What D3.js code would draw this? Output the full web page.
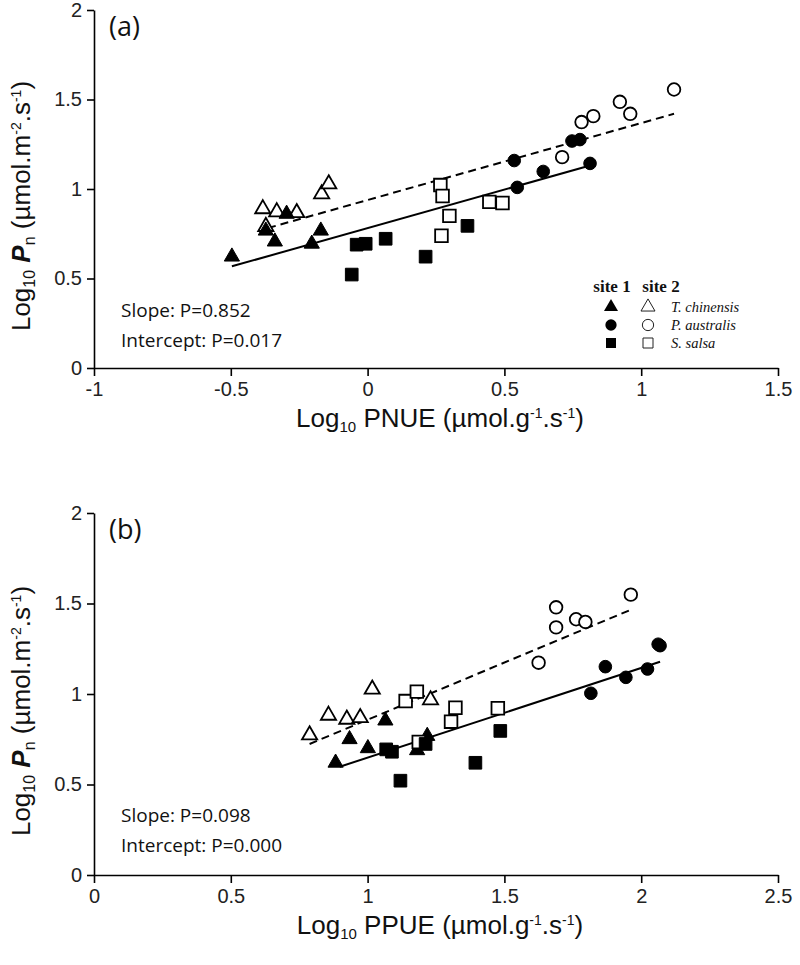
<!DOCTYPE html>
<html><head><meta charset="utf-8">
<script src="https://cdn.jsdelivr.net/npm/d3@7"></script>
<style>body{margin:0;background:#fff}</style></head>
<body>
<svg id="c" width="800" height="965"></svg>
<script>
// ---------- data ----------
const speciesNames = ["T. chinensis", "P. australis", "S. salsa"];
const siteNames = ["site 1", "site 2"];
const symbolTypes = ["triangle", "circle", "square"];

// Panel (a): x = Log10 PNUE, y = Log10 Pn
const aTriS1 = [[-0.496,0.622],[-0.372,0.767],[-0.339,0.706],[-0.296,0.861],[-0.204,0.694],[-0.171,0.767]];
const aTriS2 = [[-0.383,0.889],[-0.372,0.79],[-0.332,0.872],[-0.259,0.867],[-0.168,0.972],[-0.142,1.028]];
const aCirS1 = [[0.536,1.159],[0.642,1.098],[0.547,1.009],[0.747,1.268],[0.776,1.276],[0.813,1.143]];
const aCirS2 = [[0.711,1.178],[0.782,1.374],[0.825,1.407],[0.922,1.487],[0.96,1.42],[1.12,1.556]];
const aSqS1 = [[-0.04,0.689],[-0.007,0.694],[0.066,0.722],[-0.058,0.522],[0.212,0.622],[0.365,0.794]];
const aSqS2 = [[0.266,1.022],[0.274,0.961],[0.299,0.85],[0.27,0.739],[0.445,0.928],[0.493,0.922]];
const aFitS1 = [[-0.496,0.568],[0.81,1.13]];
const aFitS2 = [[-0.364,0.782],[1.12,1.42]];
const aXTicks = [-1, -0.5, 0, 0.5, 1, 1.5];
const aXLabels = ["-1", "-0.5", "0", "0.5", "1", "1.5"];
const aStats = ["Slope: P=0.852", "Intercept: P=0.017"];

// Panel (b): x = Log10 PPUE, y = Log10 Pn
const bTriS1 = [[0.883,0.62],[0.934,0.75],[1.001,0.70],[1.065,0.853],[1.181,0.689],[1.218,0.768]];
const bTriS2 = [[0.788,0.773],[0.857,0.882],[0.924,0.86],[0.973,0.869],[1.017,1.026],[1.23,0.967]];
const bCirS1 = [[1.816,1.004],[1.869,1.151],[1.944,1.092],[2.023,1.138],[2.069,1.267],[2.062,1.275]];
const bCirS2 = [[1.625,1.173],[1.689,1.479],[1.689,1.368],[1.762,1.413],[1.796,1.398],[1.962,1.549]];
const bSqS1 = [[1.068,0.694],[1.089,0.681],[1.212,0.724],[1.12,0.521],[1.394,0.62],[1.485,0.796]];
const bSqS2 = [[1.139,0.961],[1.18,1.013],[1.321,0.924],[1.305,0.847],[1.187,0.735],[1.476,0.921]];
const bFitS1 = [[0.898,0.598],[2.069,1.178]];
const bFitS2 = [[0.788,0.724],[1.966,1.468]];
const bXTicks = [0, 0.5, 1, 1.5, 2, 2.5];
const bXLabels = ["0", "0.5", "1", "1.5", "2", "2.5"];
const bStats = ["Slope: P=0.098", "Intercept: P=0.000"];

const yTicks = [0, 0.5, 1, 1.5, 2];
const yLabels = ["0", "0.5", "1", "1.5", "2"];

// ---------- drawing ----------
const svg = d3.select("#c");
const tickFont = "'Liberation Sans Narrow','Liberation Sans',Arial,sans-serif";
const noteFont = "'Open Sans',sans-serif";

const symMap = {triangle: d3.symbolTriangle, circle: d3.symbolCircle, square: d3.symbolSquare};
const symSize = {triangle: 100, circle: 125, square: 160};

function panel(cfg) {
  const g = svg.append("g");
  const x = d3.scaleLinear().domain(cfg.xDomain).range([94, 778]);
  const y = d3.scaleLinear().domain([0, 2]).range(cfg.yRange);

  const xAxis = d3.axisBottom(x).tickValues(cfg.xTicks)
    .tickFormat((d, i) => cfg.xLabels[i]).tickSizeInner(8).tickSizeOuter(0).tickPadding(6);
  const yAxis = d3.axisLeft(y).tickValues(yTicks)
    .tickFormat((d, i) => yLabels[i]).tickSizeInner(7).tickSizeOuter(0).tickPadding(5);

  const gx = g.append("g").attr("transform", `translate(0,${cfg.yRange[0]})`).call(xAxis);
  const gy = g.append("g").attr("transform", `translate(94,0)`).call(yAxis);
  [gx, gy].forEach(a => {
    a.selectAll("path,line").attr("stroke", "#000").attr("stroke-width", 1.6);
    a.selectAll("text").attr("font-family", tickFont).attr("font-size", 20).attr("fill", "#222");
  });

  const line = d3.line().x(d => x(d[0])).y(d => y(d[1]));
  g.append("path").datum(cfg.fit1).attr("d", line).attr("fill", "none")
    .attr("stroke", "#000").attr("stroke-width", 2);
  g.append("path").datum(cfg.fit2).attr("d", line).attr("fill", "none")
    .attr("stroke", "#000").attr("stroke-width", 2).attr("stroke-dasharray", "8,5");

  cfg.series.forEach(s => {
    const sym = d3.symbol().type(symMap[s.type]).size(symSize[s.type]);
    g.selectAll(null).data(s.data).enter().append("path")
      .attr("d", sym)
      .attr("transform", d => `translate(${x(d[0])},${y(d[1])})`)
      .attr("fill", s.filled ? "#000" : "#fff")
      .attr("stroke", "#000").attr("stroke-width", s.filled ? 1 : 1.8);
  });

  // panel letter
  g.append("text").attr("x", 109).attr("y", cfg.yRange[1] + 26)
    .attr("font-family", noteFont).attr("font-size", 27).attr("fill", "#111").text(cfg.letter);

  // stats
  cfg.stats.forEach((t, i) => {
    g.append("text").attr("x", 121).attr("y", cfg.statsY + i * 30)
      .attr("font-family", noteFont).attr("font-size", 19).attr("fill", "#111").text(t);
  });

  // y label
  const yl = g.append("text")
    .attr("transform", `translate(30,${(cfg.yRange[0] + cfg.yRange[1]) / 2 + 17}) rotate(-90)`)
    .attr("text-anchor", "middle").attr("font-family", tickFont).attr("font-size", 26).attr("fill", "#111");
  yl.append("tspan").text("Log");
  yl.append("tspan").attr("font-size", 16).attr("dy", 5).text("10");
  yl.append("tspan").attr("dy", -5).text(" ");
  yl.append("tspan").attr("font-weight", "bold").attr("font-style", "italic").text("P");
  yl.append("tspan").attr("font-size", 16).attr("dy", 5).text("n");
  yl.append("tspan").attr("dy", -5).text(" (µmol.m");
  yl.append("tspan").attr("font-size", 14).attr("dy", -9).text("-2");
  yl.append("tspan").attr("dy", 9).text(".s");
  yl.append("tspan").attr("font-size", 14).attr("dy", -9).text("-1");
  yl.append("tspan").attr("dy", 9).text(")");

  // x label
  const xl = g.append("text").attr("x", 440).attr("y", cfg.yRange[0] + 59)
    .attr("text-anchor", "middle").attr("font-family", tickFont).attr("font-size", 26).attr("fill", "#111");
  xl.append("tspan").text("Log");
  xl.append("tspan").attr("font-size", 15).attr("dy", 5).text("10");
  xl.append("tspan").attr("dy", -5).text(" " + cfg.xName + " (µmol.g");
  xl.append("tspan").attr("font-size", 14).attr("dy", -9).text("-1");
  xl.append("tspan").attr("dy", 9).text(".s");
  xl.append("tspan").attr("font-size", 14).attr("dy", -9).text("-1");
  xl.append("tspan").attr("dy", 9).text(")");
  return g;
}

panel({
  letter: "(a)", xDomain: [-1, 1.5], yRange: [368, 10], xTicks: aXTicks, xLabels: aXLabels,
  xName: "PNUE", stats: aStats, statsY: 317, fit1: aFitS1, fit2: aFitS2,
  series: [
    {type: "triangle", filled: false, data: aTriS2}, {type: "triangle", filled: true, data: aTriS1},
    {type: "square", filled: false, data: aSqS2}, {type: "square", filled: true, data: aSqS1},
    {type: "circle", filled: false, data: aCirS2}, {type: "circle", filled: true, data: aCirS1}
  ]
});
panel({
  letter: "(b)", xDomain: [0, 2.5], yRange: [875, 513], xTicks: bXTicks, xLabels: bXLabels,
  xName: "PPUE", stats: bStats, statsY: 822, fit1: bFitS1, fit2: bFitS2,
  series: [
    {type: "triangle", filled: false, data: bTriS2}, {type: "triangle", filled: true, data: bTriS1},
    {type: "square", filled: false, data: bSqS2}, {type: "square", filled: true, data: bSqS1},
    {type: "circle", filled: false, data: bCirS2}, {type: "circle", filled: true, data: bCirS1}
  ]
});

// legend (panel a)
const lg = svg.append("g");
const serif = "'Liberation Serif','Times New Roman',serif";
lg.selectAll(null).data(siteNames).enter().append("text")
  .attr("x", (d, i) => 612 + i * 49).attr("y", 292).attr("text-anchor", "middle")
  .attr("font-family", serif).attr("font-weight", "bold").attr("font-size", 17).attr("fill", "#111")
  .text(d => d);
symbolTypes.forEach((t, i) => {
  const sym = d3.symbol().type(symMap[t]).size(t === "triangle" ? 85 : 100);
  const yy = 307 + i * 18;
  lg.append("path").attr("d", sym).attr("transform", `translate(611,${yy})`).attr("fill", "#000");
  lg.append("path").attr("d", sym).attr("transform", `translate(648,${yy})`)
    .attr("fill", "#fff").attr("stroke", "#222").attr("stroke-width", 1);
  lg.append("text").attr("x", 671).attr("y", yy + 5)
    .attr("font-family", serif).attr("font-style", "italic").attr("font-size", 14.5).attr("fill", "#111")
    .text(speciesNames[i]);
});
</script>
</body></html>
